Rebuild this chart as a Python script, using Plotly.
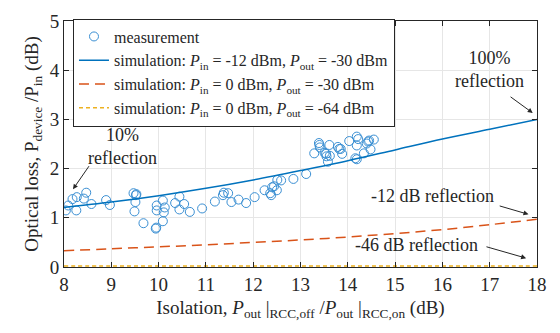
import plotly.graph_objects as go

# measurement data (isolation dB, optical loss dB)
meas_x = [8.04, 8.09, 8.18, 8.27, 8.26, 8.42, 8.47, 8.58, 8.89, 8.97,
          9.47, 9.53, 9.52, 9.51, 9.49, 9.68, 9.94, 9.95, 9.96, 9.96,
          10.09, 10.13, 10.11, 10.09, 10.35, 10.44, 10.44, 10.54, 10.66, 10.92,
          11.19, 11.36, 11.38, 11.47, 11.54, 11.69, 11.85, 12.03, 12.24, 12.36,
          12.40, 12.44, 12.38, 12.50, 12.51, 12.59, 12.85, 13.12, 13.29, 13.39,
          13.40, 13.41, 13.51, 13.54, 13.55, 13.61, 13.58, 13.62, 13.79, 13.82,
          13.85, 13.88, 14.03, 14.19, 14.22, 14.19, 14.16, 14.19, 14.34, 14.40,
          14.43, 14.45, 14.48, 14.55]
meas_y = [1.15, 1.25, 1.38, 1.42, 1.15, 1.39, 1.51, 1.28, 1.36, 1.26,
          1.50, 1.48, 1.46, 1.32, 1.13, 0.89, 0.78, 0.80, 1.25, 1.15,
          1.35, 1.21, 1.11, 0.93, 1.30, 1.43, 1.17, 1.28, 1.12, 1.19,
          1.33, 1.46, 1.51, 1.50, 1.32, 1.37, 1.30, 1.42, 1.56, 1.50,
          1.62, 1.64, 1.46, 1.56, 1.77, 1.76, 1.79, 1.89, 2.31, 2.52,
          2.48, 2.43, 2.32, 2.30, 2.25, 2.48, 2.14, 2.26, 2.44, 2.40,
          2.40, 2.30, 2.56, 2.65, 2.60, 2.47, 2.21, 2.19, 2.31, 2.51,
          2.55, 2.57, 2.39, 2.59]

# simulation curves
sim_x = [8, 9, 10, 11, 12, 13, 14, 15, 16, 17, 18]
sim_a = [1.21, 1.32, 1.45, 1.60, 1.77, 1.96, 2.16, 2.38, 2.60, 2.80, 3.00]
sim_b = [0.33, 0.37, 0.41, 0.45, 0.50, 0.55, 0.61, 0.68, 0.76, 0.86, 0.97]
sim_c = [0.02, 0.02, 0.02, 0.02, 0.02, 0.02, 0.02, 0.02, 0.02, 0.02, 0.02]

FONT = "Liberation Serif"
BLUE = "#0072BD"
MBLUE = "#3A8FD3"
RED = "#D95319"
YEL = "#EDB120"
INK = "#262626"

fig = go.Figure()
fig.add_trace(go.Scatter(x=meas_x, y=meas_y, mode="markers", name="measurement",
                         marker=dict(symbol="circle-open", size=9, color=MBLUE, line=dict(width=1))))
fig.add_trace(go.Scatter(x=sim_x, y=sim_a, mode="lines", line=dict(color=BLUE, width=1.5, shape="spline"),
                         name="simulation: <i>P</i><sub>in</sub> = -12 dBm, <i>P</i><sub>out</sub> = -30 dBm"))
fig.add_trace(go.Scatter(x=sim_x, y=sim_b, mode="lines", line=dict(color=RED, width=1.5, dash="10px,6px", shape="spline"),
                         name="simulation: <i>P</i><sub>in</sub> = 0 dBm, <i>P</i><sub>out</sub> = -30 dBm"))
fig.add_trace(go.Scatter(x=sim_x, y=sim_c, mode="lines", line=dict(color=YEL, width=1.5, dash="4px,3px", shape="spline"),
                         name="simulation: <i>P</i><sub>in</sub> = 0 dBm, <i>P</i><sub>out</sub> = -64 dBm"))

annots = [
    ("10%<br>reflection", 9.23, 2.45, 8.55, 2.08, 8.19, 1.58),
    ("100%<br>reflection", 17.0, 4.02, 17.41, 3.48, 17.91, 3.13),
    ("-12 dB reflection", 15.80, 1.44, 17.18, 1.25, 17.82, 1.07),
    ("-46 dB reflection", 15.46, 0.44, 16.90, 0.42, 17.77, 0.18),
]
for t, tx, ty, ax_, ay_, hx, hy in annots:
    fig.add_annotation(x=tx, y=ty, text=t, showarrow=False, font=dict(family=FONT, size=18, color=INK))
    fig.add_annotation(x=hx, y=hy, ax=ax_, ay=ay_, xref="x", yref="y", axref="x", ayref="y", text="",
                       showarrow=True, arrowhead=2, arrowsize=1, arrowwidth=1, arrowcolor=INK)

axis_common = dict(showgrid=True, gridcolor="#E6E6E6", gridwidth=1, zeroline=False,
                   showline=True, linecolor=INK, linewidth=1, mirror="ticks",
                   ticks="inside", ticklen=5, tickcolor=INK, dtick=1,
                   tickfont=dict(family=FONT, size=19, color=INK))

fig.update_layout(
    width=560, height=333, margin=dict(l=64, r=23, t=11, b=66),
    paper_bgcolor="white", plot_bgcolor="white",
    font=dict(family=FONT, color=INK),
    xaxis=dict(range=[8, 18], **axis_common,
               title=dict(text="Isolation, <i>P</i><sub>out</sub> |<sub>RCC,off</sub> /<i>P</i><sub>out</sub> |<sub>RCC,on</sub> (dB)",
                          font=dict(family=FONT, size=19), standoff=6)),
    yaxis=dict(range=[0, 5], **axis_common,
               title=dict(text="Optical loss, P<sub>device</sub> /P<sub>in</sub> (dB)",
                          font=dict(family=FONT, size=19), standoff=6)),
    legend=dict(x=0.019, y=1.01, xanchor="left", yanchor="top", bgcolor="white",
                bordercolor=INK, borderwidth=1, font=dict(family=FONT, size=16, color=INK),
                tracegroupgap=0),
    showlegend=True,
)

fig.write_html("out.html")
